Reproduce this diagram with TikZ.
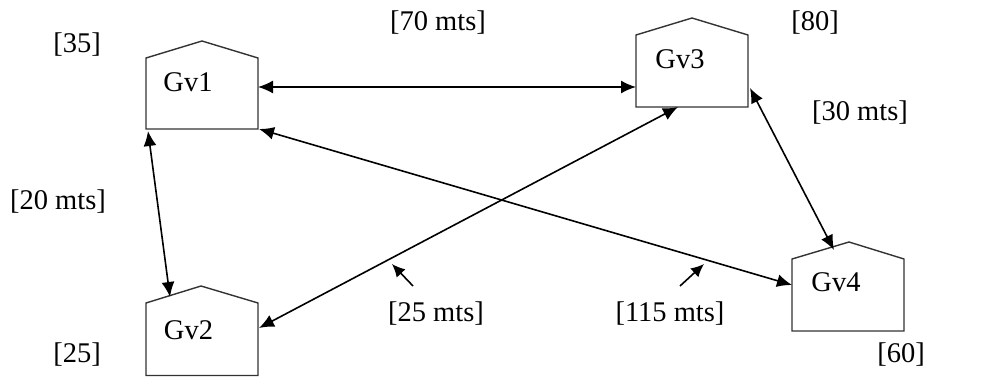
\documentclass[tikz,border=0pt]{standalone}
\usepackage{fontspec}
\setmainfont{Liberation Serif}
\usetikzlibrary{arrows.meta}
\begin{document}
\begin{tikzpicture}[x=1pt,y=-1pt,
  house/.style={draw=black!80,line width=1.4pt,line join=miter},
  lbl/.style={inner sep=0pt,font=\fontsize{28.5}{32}\selectfont},
  conn/.style={line width=1.6pt,{Latex[length=15pt,width=13pt]}-{Latex[length=15pt,width=13pt]}},
  ptr/.style={line width=1.6pt,-{Latex[length=13pt,width=12pt]}}]
\useasboundingbox (0,0) rectangle (994,377);
% houses
\draw[house] (146,129) -- (146,58) -- (202,41) -- (258,58) -- (258,129) -- cycle;
\draw[house] (636,107) -- (636,35) -- (692,18) -- (748,35) -- (748,107) -- cycle;
\draw[house] (792,331) -- (792,259) -- (849,242) -- (904,259) -- (904,331) -- cycle;
\draw[house] (146,375.5) -- (146,303) -- (201,286) -- (258,303) -- (258,375.5) -- cycle;
% house labels
\node[lbl] (g1) at (188,82) {Gv1};
\node[lbl] (g3) at (680,59.5) {Gv3};
\node[lbl] (g4) at (836,282) {Gv4};
\node[lbl] (g2) at (188.5,330) {Gv2};
% connector ends
\coordinate (g1r) at (258,87);
\coordinate (g3l) at (636,87);
\coordinate (g1bl) at (148,131);
\coordinate (g2t) at (170,297);
\coordinate (g1br) at (259,129);
\coordinate (g4l) at (792,285);
\coordinate (g2r) at (259,328);
\coordinate (g3b) at (678,107);
\coordinate (g3r) at (750,88);
\coordinate (g4t) at (834,250);
\coordinate (p25a) at (413,286);
\coordinate (p25b) at (392,264);
\coordinate (p115a) at (680,286);
\coordinate (p115b) at (704,264);
% connectors
\draw[conn] (g1r) -- (g3l);
\draw[conn] (g1bl) -- (g2t);
\draw[conn] (g1br) -- (g4l);
\draw[conn] (g2r) -- (g3b);
\draw[conn] (g3r) -- (g4t);
\draw[ptr] (p25a) -- (p25b);
\draw[ptr] (p115a) -- (p115b);
% labels
\node[lbl] (l35) at (77,45) {[35]};
\node[lbl] (l70) at (438,23) {[70 mts]};
\node[lbl] (l80) at (815,23) {[80]};
\node[lbl] (l30) at (860,113) {[30 mts]};
\node[lbl] (l20) at (58,202) {[20 mts]};
\node[lbl] (l25m) at (436,314) {[25 mts]};
\node[lbl] (l115) at (670,314) {[115 mts]};
\node[lbl] (l25) at (77,355) {[25]};
\node[lbl] (l60) at (901,355) {[60]};
\end{tikzpicture}
\end{document}
